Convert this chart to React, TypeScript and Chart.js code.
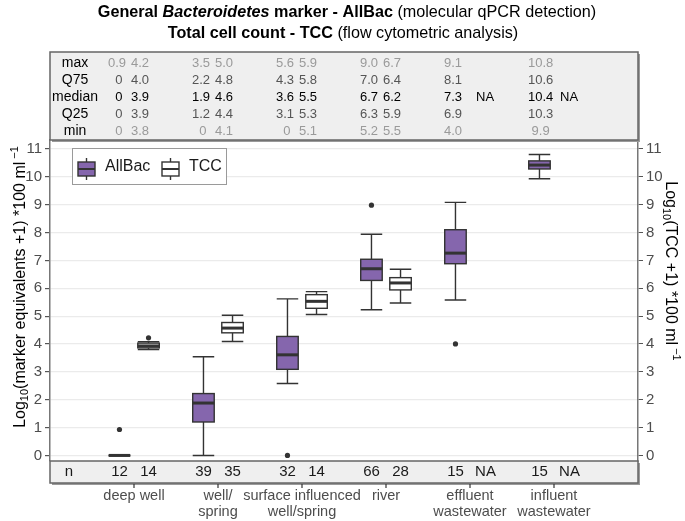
import React, { useEffect, useRef } from 'react';
import { Chart, registerables } from 'chart.js';
Chart.register(...registerables);

const categories = [['deep well'], ['well/', 'spring'], ['surface influenced', 'well/spring'], ['river'], ['effluent', 'wastewater'], ['influent', 'wastewater']];
const yTicks = [0, 1, 2, 3, 4, 5, 6, 7, 8, 9, 10, 11];

// AllBac box statistics (whisker low, Q1, median, Q3, whisker high)
const allBacLow = [0, 0, 2.58, 5.23, 5.58, 9.93];
const allBacQ1 = [0, 1.2, 3.09, 6.28, 6.88, 10.28];
const allBacMed = [0, 1.88, 3.61, 6.7, 7.26, 10.42];
const allBacQ3 = [0, 2.22, 4.27, 7.04, 8.1, 10.57];
const allBacHigh = [0, 3.54, 5.62, 7.94, 9.08, 10.8];
const allBacOutliers = [[0.93], [], [0], [8.98], [4.0], []];

// TCC box statistics
const tccLow = [3.8, 4.09, 5.06, 5.47, null, null];
const tccQ1 = [3.86, 4.4, 5.28, 5.94, null, null];
const tccMed = [3.93, 4.57, 5.53, 6.19, null, null];
const tccQ3 = [4.03, 4.77, 5.77, 6.38, null, null];
const tccHigh = [4.08, 5.03, 5.88, 6.68, null, null];
const tccOutliers = [[4.22], [], [], [], [], []];

// sample counts
const nAllBac = ['12', '39', '32', '66', '15', '15'];
const nTcc = ['14', '35', '14', '28', 'NA', 'NA'];

// summary table text
const statLabels = ['max', 'Q75', 'median', 'Q25', 'min'];
const allBacMaxText = ['0.9', '3.5', '5.6', '9.0', '9.1', '10.8'];
const allBacQ75Text = ['0', '2.2', '4.3', '7.0', '8.1', '10.6'];
const allBacMedianText = ['0', '1.9', '3.6', '6.7', '7.3', '10.4'];
const allBacQ25Text = ['0', '1.2', '3.1', '6.3', '6.9', '10.3'];
const allBacMinText = ['0', '0', '0', '5.2', '4.0', '9.9'];
const tccMaxText = ['4.2', '5.0', '5.9', '6.7', '', ''];
const tccQ75Text = ['4.0', '4.8', '5.8', '6.4', '', ''];
const tccMedianText = ['3.9', '4.6', '5.5', '6.2', 'NA', 'NA'];
const tccQ25Text = ['3.9', '4.4', '5.3', '5.9', '', ''];
const tccMinText = ['3.8', '4.1', '5.1', '5.5', '', ''];

const PURPLE = '#8566ad';
const DARK = '#333333';
const FONT = '"Liberation Sans", Arial, sans-serif';
const OFF = 0.173;
const HALF = 0.128;

type Seg = { t: string; f: string; dy?: number };

function drawSegs(ctx: CanvasRenderingContext2D, segs: Seg[], x: number, y: number, align: 'center' | 'left' = 'center') {
  let total = 0;
  const widths = segs.map((s) => { ctx.font = s.f; const w = ctx.measureText(s.t).width; total += w; return w; });
  let cx = align === 'center' ? x - total / 2 : x;
  ctx.textAlign = 'left';
  ctx.textBaseline = 'middle';
  segs.forEach((s, i) => { ctx.font = s.f; ctx.fillText(s.t, cx, y + (s.dy || 0)); cx += widths[i]; });
}

function panel(ctx: CanvasRenderingContext2D, x1: number, y1: number, x2: number, y2: number) {
  ctx.save();
  ctx.fillStyle = '#efefef';
  ctx.fillRect(x1, y1, x2 - x1, y2 - y1);
  ctx.strokeStyle = '#9a9a9a';
  ctx.lineWidth = 2;
  ctx.beginPath();
  ctx.moveTo(x2 + 1, y1 + 2); ctx.lineTo(x2 + 1, y2 + 1); ctx.lineTo(x1 + 2, y2 + 1);
  ctx.stroke();
  ctx.strokeStyle = '#666666';
  ctx.lineWidth = 1.5;
  ctx.strokeRect(x1, y1, x2 - x1, y2 - y1);
  ctx.restore();
}

const boxPlugin = {
  id: 'boxes',
  beforeDatasetsDraw(chart: any) {
    const ctx: CanvasRenderingContext2D = chart.ctx;
    const xs = chart.scales.x, ys = chart.scales.y;
    const draw = (c: number, low: number, q1: number, med: number, q3: number, high: number, fill: string) => {
      const cx = xs.getPixelForValue(c);
      const hw = xs.getPixelForValue(c + HALF) - cx;
      ctx.save();
      ctx.strokeStyle = DARK;
      ctx.lineWidth = 1.4;
      ctx.beginPath();
      ctx.moveTo(cx, ys.getPixelForValue(high)); ctx.lineTo(cx, ys.getPixelForValue(q3));
      ctx.moveTo(cx, ys.getPixelForValue(q1)); ctx.lineTo(cx, ys.getPixelForValue(low));
      ctx.moveTo(cx - hw, ys.getPixelForValue(high)); ctx.lineTo(cx + hw, ys.getPixelForValue(high));
      ctx.moveTo(cx - hw, ys.getPixelForValue(low)); ctx.lineTo(cx + hw, ys.getPixelForValue(low));
      ctx.stroke();
      const top = ys.getPixelForValue(q3), bot = ys.getPixelForValue(q1);
      ctx.fillStyle = fill;
      ctx.fillRect(cx - hw, top, 2 * hw, bot - top);
      ctx.strokeRect(cx - hw, top, 2 * hw, bot - top);
      ctx.lineWidth = 3;
      ctx.beginPath();
      ctx.moveTo(cx - hw, ys.getPixelForValue(med)); ctx.lineTo(cx + hw, ys.getPixelForValue(med));
      ctx.stroke();
      ctx.restore();
    };
    categories.forEach((_, i) => {
      draw(i + 1 - OFF, allBacLow[i], allBacQ1[i], allBacMed[i], allBacQ3[i], allBacHigh[i], PURPLE);
      if (tccMed[i] !== null) draw(i + 1 + OFF, tccLow[i] as number, tccQ1[i] as number, tccMed[i] as number, tccQ3[i] as number, tccHigh[i] as number, '#ffffff');
    });
  },
};

const decorPlugin = {
  id: 'decor',
  afterDraw(chart: any) {
    const ctx: CanvasRenderingContext2D = chart.ctx;
    const xs = chart.scales.x;
    const area = chart.chartArea;
    const L = area.left, R = area.right;
    ctx.save();
    // titles
    ctx.fillStyle = '#000000';
    drawSegs(ctx, [
      { t: 'General ', f: `bold 16.2px ${FONT}` },
      { t: 'Bacteroidetes', f: `italic bold 16.2px ${FONT}` },
      { t: ' marker - AllBac', f: `bold 16.2px ${FONT}` },
      { t: ' (molecular qPCR detection)', f: `16.2px ${FONT}` },
    ], 347, 12.5);
    drawSegs(ctx, [
      { t: 'Total cell count - TCC', f: `bold 16.2px ${FONT}` },
      { t: ' (flow cytometric analysis)', f: `16.2px ${FONT}` },
    ], 343, 33.5);

    // summary table
    panel(ctx, L, 52, R, area.top);
    const allRows = [allBacMaxText, allBacQ75Text, allBacMedianText, allBacQ25Text, allBacMinText];
    const tccRows = [tccMaxText, tccQ75Text, tccMedianText, tccQ25Text, tccMinText];
    const rowColors = ['#9a9a9a', '#555555', '#000000', '#555555', '#9a9a9a'];
    statLabels.forEach((lab, r) => {
      const y = 63.5 + r * 17;
      ctx.font = `14px ${FONT}`;
      ctx.fillStyle = '#000000';
      ctx.textAlign = 'center';
      ctx.textBaseline = 'middle';
      ctx.fillText(lab, 75, y);
      ctx.font = `13px ${FONT}`;
      const spaceW = ctx.measureText(' ').width;
      ctx.fillStyle = rowColors[r];
      ctx.textAlign = 'left';
      categories.forEach((_, i) => {
        const tick = xs.getPixelForValue(i + 1);
        const width = Math.max(...allRows.map((row) => row[i].length));
        const txt = allRows[r][i];
        ctx.fillText(txt, tick - 26 + (width - txt.length) * spaceW, y);
        const tt = tccRows[r][i];
        if (tt) ctx.fillText(tt, tt === 'NA' ? tick + 6 : tick - 3, y);
      });
    });

    // n panel
    panel(ctx, L, area.bottom, R, area.bottom + 22);
    ctx.font = `15px ${FONT}`;
    ctx.fillStyle = '#1a1a1a';
    ctx.textAlign = 'center';
    ctx.textBaseline = 'middle';
    ctx.fillText('n', 69, area.bottom + 11);
    categories.forEach((_, i) => {
      ctx.fillText(nAllBac[i], xs.getPixelForValue(i + 1 - OFF), area.bottom + 11);
      ctx.fillText(nTcc[i], xs.getPixelForValue(i + 1 + OFF) + (nTcc[i] === 'NA' ? 1 : 0), area.bottom + 11);
    });

    // x axis ticks and labels
    ctx.strokeStyle = '#333333';
    ctx.lineWidth = 1.2;
    ctx.font = `14.5px ${FONT}`;
    ctx.fillStyle = '#4d4d4d';
    categories.forEach((lines, i) => {
      const x = xs.getPixelForValue(i + 1);
      ctx.beginPath();
      ctx.moveTo(x, area.bottom + 23); ctx.lineTo(x, area.bottom + 27);
      ctx.stroke();
      lines.forEach((ln, k) => ctx.fillText(ln, x, 496 + k * 16));
    });

    // legend
    ctx.fillStyle = '#ffffff';
    ctx.fillRect(72, 148, 154, 36);
    ctx.strokeStyle = '#9a9a9a';
    ctx.lineWidth = 1;
    ctx.strokeRect(72.5, 148.5, 154, 36);
    const icon = (x: number, fill: string) => {
      ctx.strokeStyle = DARK;
      ctx.lineWidth = 1.4;
      ctx.beginPath();
      ctx.moveTo(x + 9.5, 158); ctx.lineTo(x + 9.5, 180);
      ctx.stroke();
      ctx.fillStyle = fill;
      ctx.fillRect(x + 1, 162, 17, 14);
      ctx.strokeRect(x + 1, 162, 17, 14);
      ctx.lineWidth = 2;
      ctx.beginPath();
      ctx.moveTo(x + 1, 169); ctx.lineTo(x + 18, 169);
      ctx.stroke();
    };
    icon(77, PURPLE);
    icon(161, '#ffffff');
    ctx.fillStyle = '#1a1a1a';
    ctx.font = `16px ${FONT}`;
    ctx.textAlign = 'left';
    ctx.textBaseline = 'middle';
    ctx.fillText('AllBac', 105, 167);
    ctx.fillText('TCC', 189, 167);

    // axis titles
    ctx.fillStyle = '#000000';
    ctx.save();
    ctx.translate(21, 287);
    ctx.rotate(-Math.PI / 2);
    drawSegs(ctx, [
      { t: 'Log', f: `16px ${FONT}` },
      { t: '10', f: `11px ${FONT}`, dy: 4 },
      { t: '(marker equivalents +1) *100 ml', f: `16px ${FONT}` },
      { t: ' \u22121', f: `11px ${FONT}`, dy: -6 },
    ], 0, 0);
    ctx.restore();
    ctx.save();
    ctx.translate(670, 271);
    ctx.rotate(Math.PI / 2);
    drawSegs(ctx, [
      { t: 'Log', f: `16px ${FONT}` },
      { t: '10', f: `11px ${FONT}`, dy: 4 },
      { t: '(TCC +1) *100 ml', f: `16px ${FONT}` },
      { t: ' \u22121', f: `11px ${FONT}`, dy: -6 },
    ], 0, 0);
    ctx.restore();
    ctx.restore();
  },
};

export default function App() {
  const ref = useRef<HTMLCanvasElement | null>(null);
  useEffect(() => {
    if (!ref.current) return;
    const outlierPoints: { x: number; y: number }[] = [];
    allBacOutliers.forEach((vals, i) => vals.forEach((v) => outlierPoints.push({ x: i + 1 - OFF, y: v })));
    tccOutliers.forEach((vals, i) => vals.forEach((v) => outlierPoints.push({ x: i + 1 + OFF, y: v })));
    const tickFont = { family: FONT, size: 15 };
    const setTicks = (s: any) => { s.ticks = yTicks.map((v) => ({ value: v })); };
    const chart = new Chart(ref.current, {
      type: 'scatter',
      data: {
        datasets: [{
          data: outlierPoints,
          pointRadius: 2.6,
          pointBackgroundColor: DARK,
          pointBorderWidth: 0,
        }],
      },
      options: {
        animation: false,
        responsive: false,
        events: [],
        layout: { padding: { top: 140, bottom: 60, left: 0, right: 0 } },
        plugins: { legend: { display: false }, tooltip: { enabled: false }, title: { display: false } },
        scales: {
          x: { type: 'linear', min: 0, max: 7, display: false },
          y: {
            position: 'left', min: -0.2, max: 11.32,
            afterBuildTicks: setTicks,
            afterFit: (s: any) => { s.width = 50; },
            ticks: { color: '#4d4d4d', font: tickFont, padding: 3 },
            grid: { color: '#ebebeb', lineWidth: 1.2, tickLength: 5, tickColor: '#555555' },
            border: { color: '#777777', width: 1.5 },
          },
          y2: {
            position: 'right', min: -0.2, max: 11.32,
            afterBuildTicks: setTicks,
            afterFit: (s: any) => { s.width = 47; },
            ticks: { color: '#4d4d4d', font: tickFont, padding: 3 },
            grid: { drawOnChartArea: false, tickLength: 5, tickColor: '#555555' },
            border: { color: '#777777', width: 1.5 },
          },
        },
      } as any,
      plugins: [boxPlugin, decorPlugin],
    });
    return () => chart.destroy();
  }, []);
  return (
    <div style={{ position: 'fixed', left: 0, top: 0, width: 685, height: 521, background: '#ffffff' }}>
      <canvas ref={ref} width={685} height={521} style={{ display: 'block', width: 685, height: 521 }} />
    </div>
  );
}
